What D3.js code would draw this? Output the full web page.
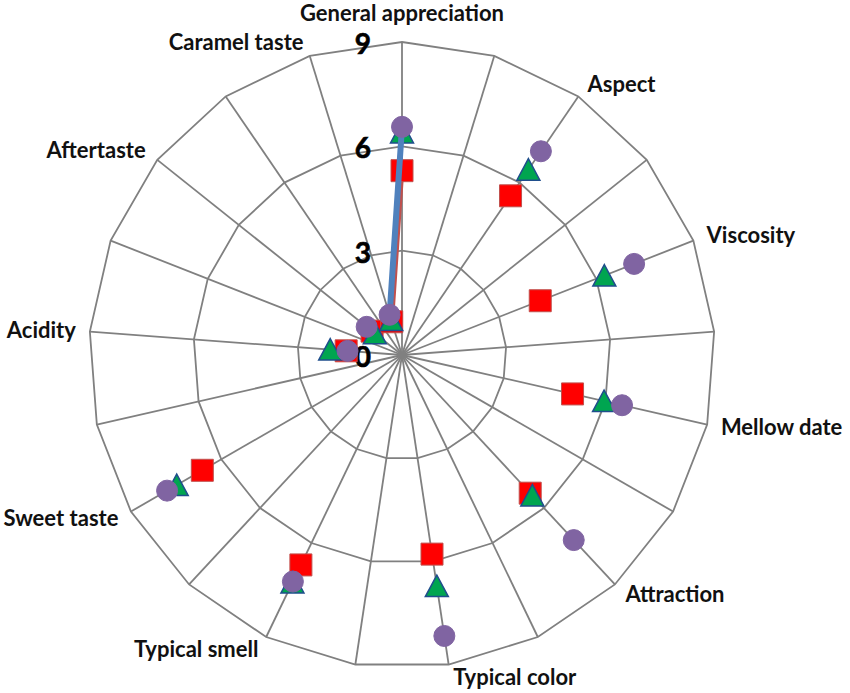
<!DOCTYPE html>
<html>
<head>
<meta charset="utf-8">
<script src="https://cdn.jsdelivr.net/npm/d3@7"></script>
<style>
  html, body { margin: 0; padding: 0; background: #ffffff; }
  svg { display: block; }
</style>
</head>
<body>
<svg id="chart" width="850" height="693"></svg>
<script>
// ---- data ----
const categories = [
  "General appreciation", "", "Aspect", "", "Viscosity", "", "Mellow date", "",
  "Attraction", "", "Typical color", "", "Typical smell", "", "Sweet taste", "",
  "Acidity", "", "Aftertaste", "", "Caramel taste"
];
// red squares
const seriesA = [5.30, null, 5.54, null, 4.27, null, 5.03, null, 5.42, null, 5.79, null,
                 6.70, null, 6.63, null, 1.61, null, 1.10, null, 1.00];
// green triangles
const seriesB = [6.40, null, 6.45, null, 6.25, null, 5.96, null, 5.51, null, 6.72, null,
                 7.26, null, 7.48, null, 2.07, null, 1.00, null, 1.05];
// purple circles
const seriesC = [6.56, null, 7.09, null, 7.17, null, 6.49, null, 7.26, null, 8.17, null,
                 7.23, null, 7.80, null, 1.57, null, 1.30, null, 1.21];
const tickValues = [0, 3, 6, 9];
const tickLabels = ["0", "3", "6", "9"];

// ---- layout ----
const svg = d3.select("#chart");
const W = 850, H = 693;
const cx = 402, cy = 355, R = 313;
const n = categories.length;
const rScale = d3.scaleLinear().domain([0, 9]).range([0, R]);
const aScale = d3.scaleLinear().domain([0, n]).range([0, 2 * Math.PI]);
const px = (i, v) => cx + rScale(v) * Math.sin(aScale(i));
const py = (i, v) => cy - rScale(v) * Math.cos(aScale(i));

svg.append("rect").attr("width", W).attr("height", H).attr("fill", "#ffffff");

const grid = svg.append("g");
// spokes
grid.selectAll("line.spoke").data(d3.range(n)).join("line")
  .attr("x1", cx).attr("y1", cy)
  .attr("x2", i => px(i, 9)).attr("y2", i => py(i, 9))
  .attr("stroke", "#808080").attr("stroke-width", 1.8);
// rings
tickValues.filter(t => t > 0).forEach(t => {
  const idx = d3.range(n);
  grid.append("path")
    .attr("transform", `translate(${cx},${cy})`)
    .attr("d", d3.lineRadial().angle(i => aScale(i)).radius(() => rScale(t)).curve(d3.curveLinearClosed)(idx))
    .attr("fill", "none").attr("stroke", "#808080").attr("stroke-width", 1.8);
});

// category labels
const lab = svg.append("g")
  .attr("font-family", "Lato, 'Open Sans', sans-serif")
  .attr("font-weight", "bold").attr("font-size", 22).attr("fill", "#111");
categories.forEach((c, i) => {
  if (!c) return;
  const a = aScale(i), s = Math.sin(a), co = Math.cos(a);
  const vx = px(i, 9), vy = py(i, 9);
  let x, y, anchor;
  if (Math.abs(s) < 0.01) { x = vx; y = vy - 21; anchor = "middle"; }
  else {
    const gap = 3 + 11 * Math.abs(s);
    x = s > 0 ? vx + gap : vx - gap;
    y = vy + 7 - 14 * co;
    anchor = s > 0 ? "start" : "end";
  }
  lab.append("text").attr("x", x).attr("y", y).attr("text-anchor", anchor).text(c);
});

// tick labels
const tk = svg.append("g")
  .attr("font-family", "Lato, 'Open Sans', sans-serif")
  .attr("font-weight", "bold").attr("font-size", 28).attr("fill", "#000");
tickValues.forEach((t, k) => {
  tk.append("text").attr("x", cx - 31).attr("y", cy - rScale(t) + 1)
    .attr("text-anchor", "end").attr("dominant-baseline", "central")
    .attr("stroke", "#000").attr("stroke-width", 0.6)
    .text(tickLabels[k]);
});

// series (green series is drawn without a connecting line)
const series = [
  { values: seriesA, line: "#C0504D", lw: 4.5, fill: "#FF0000", stroke: "#C0504D", sw: 1, shape: "square" },
  { values: seriesB, line: null, lw: 0, fill: "#00A550", stroke: "#1F4E8C", sw: 1.5, shape: "triangle" },
  { values: seriesC, line: "#4F81BD", lw: 6, fill: "#8064A2", stroke: "#8064A2", sw: 1, shape: "circle" }
];
const shapePath = {
  square: "M-11,-11H11V11H-11Z",
  triangle: "M0,-11L11.5,10.5L-11.5,10.5Z",
  circle: d3.symbol(d3.symbolCircle, Math.PI * 10.5 * 10.5)()
};
series.forEach(sr => {
  const g = svg.append("g");
  if (sr.line) {
    d3.range(n).forEach(i => {
      const j = (i + 1) % n;
      if (sr.values[i] != null && sr.values[j] != null) {
        g.append("line")
          .attr("x1", px(i, sr.values[i])).attr("y1", py(i, sr.values[i]))
          .attr("x2", px(j, sr.values[j])).attr("y2", py(j, sr.values[j]))
          .attr("stroke", sr.line).attr("stroke-width", sr.lw).attr("stroke-linecap", "round");
      }
    });
  }
  const pts = sr.values.map((v, i) => ({ v, i })).filter(d => d.v != null);
  g.selectAll("path.m").data(pts).join("path")
    .attr("d", shapePath[sr.shape])
    .attr("transform", d => `translate(${px(d.i, d.v)},${py(d.i, d.v)})`)
    .attr("fill", sr.fill).attr("stroke", sr.stroke).attr("stroke-width", sr.sw);
});
</script>
</body>
</html>
